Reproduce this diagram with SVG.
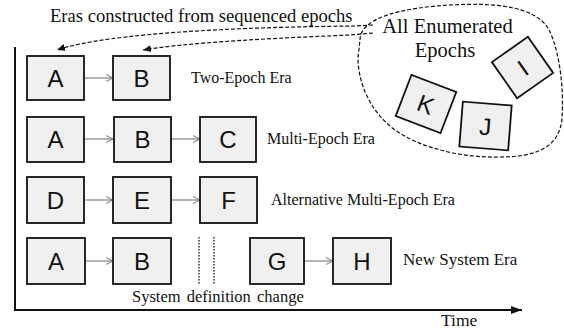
<svg xmlns="http://www.w3.org/2000/svg" width="564" height="330" viewBox="0 0 564 330">
<defs>
<marker id="open" markerWidth="10" markerHeight="10" refX="8" refY="4" orient="auto" markerUnits="userSpaceOnUse">
<path d="M1,0.5 L8,4 L1,7.5" fill="none" stroke="#777" stroke-width="1"/>
</marker>
<marker id="solid" markerWidth="12" markerHeight="10" refX="11" refY="5" orient="auto" markerUnits="userSpaceOnUse">
<path d="M0,1 L11,5 L0,9 Z" fill="#111"/>
</marker>
<marker id="dash" markerWidth="10" markerHeight="10" refX="8" refY="4" orient="auto" markerUnits="userSpaceOnUse">
<path d="M0,0.5 L8,4 L0,7.5 Z" fill="#111"/>
</marker>
</defs>
<style>
.box{fill:#f0f0f0;stroke:#111;stroke-width:1.8}
.lt{font-family:"Liberation Sans",Arial,sans-serif;font-size:24px;fill:#111;text-anchor:middle}
.tx{font-family:"Liberation Serif","Times New Roman",serif;fill:#111}
.link{stroke:#777;stroke-width:1.1;fill:none;marker-end:url(#open)}
.dsh{stroke:#111;stroke-width:1.2;fill:none;stroke-dasharray:4,2}
</style>

<text class="tx" x="50" y="22" font-size="18.6">Eras constructed from sequenced epochs</text>

<g id="axes">
<line x1="15" y1="47" x2="15" y2="311" stroke="#111" stroke-width="2"/>
<line x1="14" y1="310" x2="522" y2="310" stroke="#111" stroke-width="2" marker-end="url(#solid)"/>
<text class="tx" x="441" y="326" font-size="17.5">Time</text>
</g>

<g id="pool">
<path class="dsh" d="M360,40 C360,18 400,8 450,5 C500,2 535,8 548,28 C560,50 564,90 562,118 C560,145 540,157 500,157 C462,158 420,148 395,130 C368,110 358,80 358,58 Z"/>
<text class="tx" x="447.5" y="33" font-size="20.5" text-anchor="middle">All Enumerated</text>
<text class="tx" x="445" y="57" font-size="20.5" text-anchor="middle">Epochs</text>
</g>

<g id="epochI" transform="translate(522.5,67.5) rotate(-35)">
<rect class="box" x="-22" y="-22" width="44" height="44"/>
<text class="lt" x="0" y="9">I</text>
</g>
<g id="epochK" transform="translate(426,104) rotate(21)">
<rect class="box" x="-24" y="-22" width="48" height="44"/>
<text class="lt" x="0" y="9">K</text>
</g>
<g id="epochJ" transform="translate(485.5,126) rotate(4.5)">
<rect class="box" x="-24.5" y="-22.5" width="49" height="45"/>
<text class="lt" x="0" y="9">J</text>
</g>

<g id="connectors">
<path class="dsh" d="M373,25 L355,26 C250,27 110,32 57,50" marker-end="url(#dash)"/>
<path class="dsh" d="M373,33 L350,35 C280,38 190,42 143,50" marker-end="url(#dash)"/>
<line class="link" x1="85" y1="78" x2="113" y2="78"/>
<line class="link" x1="85" y1="139" x2="113" y2="139"/>
<line class="link" x1="171" y1="139" x2="200" y2="139"/>
<line class="link" x1="85" y1="200" x2="113" y2="200"/>
<line class="link" x1="171" y1="200" x2="200" y2="200"/>
<line class="link" x1="85" y1="261" x2="113" y2="261"/>
<line class="link" x1="304" y1="261" x2="333" y2="261"/>
</g>

<g id="row1">
<g id="r1A"><rect class="box" x="27" y="56" width="57" height="44"/><text class="lt" x="55.5" y="87">A</text></g>
<g id="r1B"><rect class="box" x="113" y="56" width="57" height="44"/><text class="lt" x="141.5" y="87">B</text></g>
<text class="tx" x="191" y="83" font-size="16">Two-Epoch Era</text>
</g>

<g id="row2">
<g id="r2A"><rect class="box" x="27" y="117" width="57" height="45"/><text class="lt" x="55.5" y="148">A</text></g>
<g id="r2B"><rect class="box" x="114" y="117" width="57" height="45"/><text class="lt" x="142.5" y="148">B</text></g>
<g id="r2C"><rect class="box" x="200" y="117" width="56" height="45"/><text class="lt" x="228" y="148">C</text></g>
<text class="tx" x="267" y="144" font-size="16">Multi-Epoch Era</text>
</g>

<g id="row3">
<g id="r3D"><rect class="box" x="27" y="177" width="57" height="46"/><text class="lt" x="55.5" y="209">D</text></g>
<g id="r3E"><rect class="box" x="113" y="177" width="58" height="46"/><text class="lt" x="142" y="209">E</text></g>
<g id="r3F"><rect class="box" x="200" y="177" width="57" height="46"/><text class="lt" x="228.5" y="209">F</text></g>
<text class="tx" x="271" y="205" font-size="16">Alternative Multi-Epoch Era</text>
</g>

<g id="row4">
<g id="r4A"><rect class="box" x="27" y="238" width="58" height="46"/><text class="lt" x="56" y="270">A</text></g>
<g id="r4B"><rect class="box" x="113" y="238" width="58" height="46"/><text class="lt" x="142" y="270">B</text></g>
<line x1="199" y1="237" x2="199" y2="285" stroke="#111" stroke-width="1.3" stroke-dasharray="1.5,1.5"/>
<line x1="214" y1="237" x2="214" y2="285" stroke="#111" stroke-width="1.3" stroke-dasharray="1.5,1.5"/>
<g id="r4G"><rect class="box" x="250" y="238" width="54" height="46"/><text class="lt" x="277" y="270">G</text></g>
<g id="r4H"><rect class="box" x="333" y="238" width="58" height="46"/><text class="lt" x="362" y="270">H</text></g>
<text class="tx" x="403" y="265" font-size="17">New System Era</text>
<text class="tx" x="132" y="302" font-size="16.5" word-spacing="2">System definition change</text>
</g>
</svg>
